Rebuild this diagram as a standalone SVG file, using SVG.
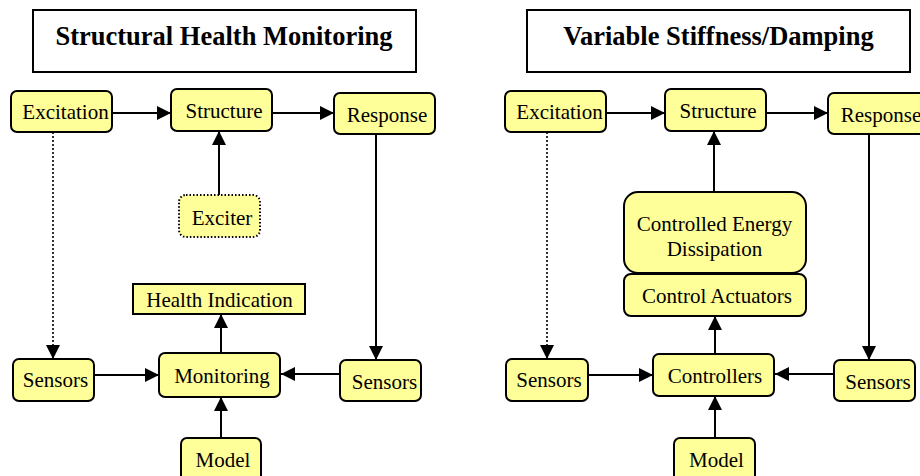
<svg xmlns="http://www.w3.org/2000/svg" width="920" height="476" viewBox="0 0 920 476">
  <style>
    text { font-family: 'Liberation Serif', 'Times New Roman', Times, 'DejaVu Serif', serif; fill: #000000; text-anchor: middle; }
    .title { fill: #ffffff; stroke: #000000; stroke-width: 2; }
    .title-text { font-size: 26.5px; font-weight: bold; }
    .node { fill: #ffff99; stroke: #000000; stroke-width: 2; }
    .dotted-node { fill: #ffff99; stroke: #000000; stroke-width: 2; stroke-dasharray: 1.5 2; }
    .label { font-size: 21px; }
    .link { fill: none; stroke: #000000; stroke-width: 2; }
    .dotted { fill: none; stroke: #000000; stroke-width: 1.6; stroke-dasharray: 2 2; }
  </style>
  <defs>
    <marker id="arrow" markerUnits="userSpaceOnUse" markerWidth="14" markerHeight="14" viewBox="0 0 14 14" refX="14" refY="7" orient="auto">
      <path d="M0,0 L14,7 L0,14 Z" fill="#000000"/>
    </marker>
  </defs>

  <!-- Left panel: Structural Health Monitoring -->
  <g id="shm-title">
    <rect class="title" x="33" y="10" width="383" height="62"/>
    <text class="title-text" x="224" y="45" font-family="Liberation Serif, serif">Structural Health Monitoring</text>
  </g>
  <g id="shm-excitation">
    <rect class="node" x="11" y="91" width="101" height="41" rx="6"/>
    <text class="label" x="65.5" y="119">Excitation</text>
  </g>
  <g id="shm-structure">
    <rect class="node" x="171" y="89" width="101" height="42" rx="6"/>
    <text class="label" x="224" y="118">Structure</text>
  </g>
  <g id="shm-response">
    <rect class="node" x="334" y="93" width="101" height="41" rx="6"/>
    <text class="label" x="387" y="122">Response</text>
  </g>
  <g id="shm-exciter">
    <rect class="dotted-node" x="179" y="195" width="81" height="42" rx="7"/>
    <text class="label" x="222" y="225">Exciter</text>
  </g>
  <g id="shm-health">
    <rect class="node" x="133" y="284" width="172" height="30"/>
    <text class="label" x="219.5" y="307">Health Indication</text>
  </g>
  <g id="shm-sensors-left">
    <rect class="node" x="13" y="359" width="81" height="42" rx="6"/>
    <text class="label" x="55.5" y="387">Sensors</text>
  </g>
  <g id="shm-monitoring">
    <rect class="node" x="159" y="353" width="121" height="44" rx="6"/>
    <text class="label" x="222" y="383">Monitoring</text>
  </g>
  <g id="shm-sensors-right">
    <rect class="node" x="340" y="360" width="81" height="41" rx="6"/>
    <text class="label" x="384.5" y="389">Sensors</text>
  </g>
  <g id="shm-model">
    <rect class="node" x="181" y="438" width="80" height="44" rx="6"/>
    <text class="label" x="223" y="467">Model</text>
  </g>

  <!-- Right panel: Variable Stiffness/Damping -->
  <g id="vsd-title">
    <rect class="title" x="527" y="10" width="383" height="62"/>
    <text class="title-text" x="718.5" y="45">Variable Stiffness/Damping</text>
  </g>
  <g id="vsd-excitation">
    <rect class="node" x="505" y="91" width="101" height="41" rx="6"/>
    <text class="label" x="559.5" y="119">Excitation</text>
  </g>
  <g id="vsd-structure">
    <rect class="node" x="665" y="89" width="101" height="42" rx="6"/>
    <text class="label" x="718" y="118">Structure</text>
  </g>
  <g id="vsd-response">
    <rect class="node" x="828" y="93" width="101" height="41" rx="6"/>
    <text class="label" x="881" y="122">Response</text>
  </g>
  <g id="vsd-dissipation">
    <rect class="node" x="624" y="192" width="182" height="81" rx="14"/>
    <text class="label" x="714.5" y="231">Controlled Energy</text>
    <text class="label" x="714.5" y="256">Dissipation</text>
  </g>
  <g id="vsd-actuators">
    <rect class="node" x="624" y="274" width="182" height="42" rx="7"/>
    <text class="label" x="717" y="303">Control Actuators</text>
  </g>
  <g id="vsd-sensors-left">
    <rect class="node" x="506" y="359" width="82" height="42" rx="6"/>
    <text class="label" x="549" y="387">Sensors</text>
  </g>
  <g id="vsd-controllers">
    <rect class="node" x="653" y="354" width="121" height="42" rx="6"/>
    <text class="label" x="715" y="383">Controllers</text>
  </g>
  <g id="vsd-sensors-right">
    <rect class="node" x="834" y="360" width="81" height="41" rx="6"/>
    <text class="label" x="878" y="389">Sensors</text>
  </g>
  <g id="vsd-model">
    <rect class="node" x="674" y="438" width="81" height="44" rx="6"/>
    <text class="label" x="716.5" y="467">Model</text>
  </g>

  <!-- Connectors -->
  <g id="connectors">
    <!-- left panel -->
    <line class="link" x1="112" y1="113" x2="171" y2="113" marker-end="url(#arrow)"/>
    <line class="link" x1="272" y1="113" x2="334" y2="113" marker-end="url(#arrow)"/>
    <line class="link" x1="219" y1="195" x2="219" y2="131" marker-end="url(#arrow)"/>
    <line class="dotted" x1="53" y1="132" x2="53" y2="359" marker-end="url(#arrow)"/>
    <line class="link" x1="376" y1="134" x2="376" y2="360" marker-end="url(#arrow)"/>
    <line class="link" x1="94" y1="375" x2="159" y2="375" marker-end="url(#arrow)"/>
    <line class="link" x1="340" y1="374" x2="281" y2="374" marker-end="url(#arrow)"/>
    <line class="link" x1="221" y1="353" x2="221" y2="314" marker-end="url(#arrow)"/>
    <line class="link" x1="221" y1="438" x2="221" y2="397" marker-end="url(#arrow)"/>
    <!-- right panel -->
    <line class="link" x1="606" y1="113" x2="665" y2="113" marker-end="url(#arrow)"/>
    <line class="link" x1="766" y1="113" x2="828" y2="113" marker-end="url(#arrow)"/>
    <line class="link" x1="714" y1="192" x2="714" y2="131" marker-end="url(#arrow)"/>
    <line class="dotted" x1="547" y1="132" x2="547" y2="359" marker-end="url(#arrow)"/>
    <line class="link" x1="869" y1="134" x2="869" y2="360" marker-end="url(#arrow)"/>
    <line class="link" x1="588" y1="375" x2="653" y2="375" marker-end="url(#arrow)"/>
    <line class="link" x1="834" y1="374" x2="775" y2="374" marker-end="url(#arrow)"/>
    <line class="link" x1="715" y1="354" x2="715" y2="316" marker-end="url(#arrow)"/>
    <line class="link" x1="715" y1="438" x2="715" y2="396" marker-end="url(#arrow)"/>
  </g>
</svg>
